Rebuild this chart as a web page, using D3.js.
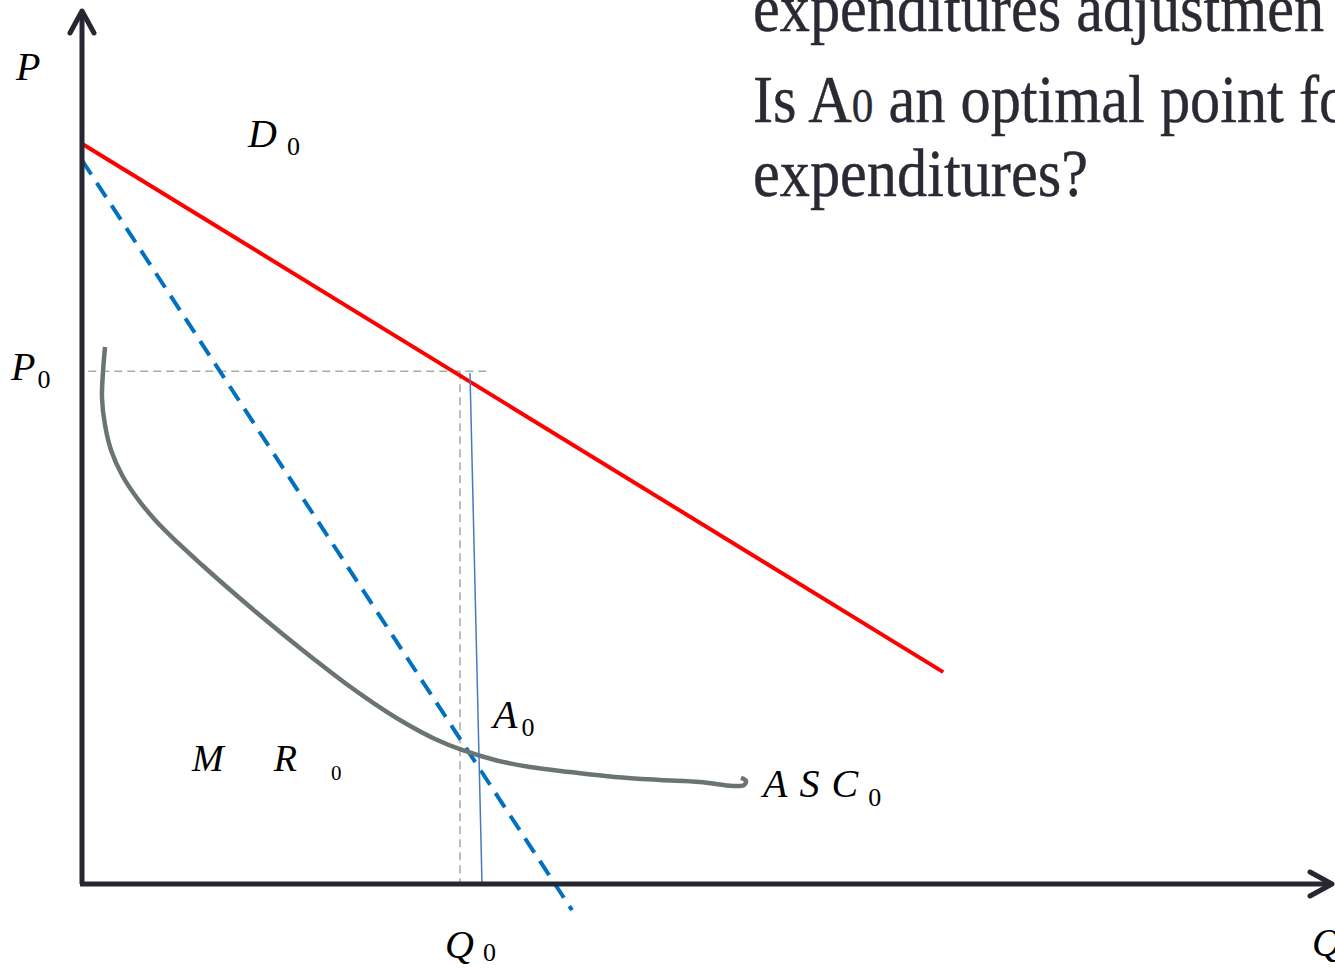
<!DOCTYPE html>
<html>
<head>
<meta charset="utf-8">
<script src="https://cdn.jsdelivr.net/npm/d3@7/dist/d3.min.js"></script>
<style>
  html, body { margin: 0; padding: 0; background: #fff; }
  svg { display: block; }
</style>
</head>
<body>
<div id="chart"></div>
<script>
// chart values (Q and P in chart units 0..100)
var demandQ = [0, 68.9];
var demandP = [84.9, 24.3];

var mrQ = [0, 39.2];
var mrP = [83.0, -3.0];

var ascQ = [1.84, 1.68, 1.60, 1.84, 2.32, 3.20, 4.40, 5.92, 7.68, 9.60, 11.68, 13.92, 16.24, 18.64, 21.04, 23.44, 25.84, 28.24, 30.40, 33.04, 35.84, 39.04, 42.64, 46.24, 49.44, 52.08, 52.96, 53.12, 52.72];
var ascP = [61.58, 58.72, 55.73, 52.64, 49.77, 46.90, 44.27, 41.63, 39.11, 36.58, 33.94, 31.19, 28.44, 25.69, 23.05, 20.64, 18.46, 16.63, 15.37, 14.22, 13.42, 12.84, 12.27, 11.93, 11.70, 11.24, 11.35, 11.81, 12.16];

var p0 = 58.8;
var q0 = 30.24;
var p0GuideQ = [0.5, 32.6];
var a0LineQ = [31.04, 32.0];
var a0LineP = [58.6, 0];

var titleLines = ['expenditures adjustmen', 'Is A|0| an optimal point fo', 'expenditures?'];

var width = 1335, height = 969;

var x = d3.scaleLinear().domain([0, 100]).range([82, 1332]);
var y = d3.scaleLinear().domain([0, 100]).range([884, 12]);

var svg = d3.select('#chart').append('svg')
    .attr('width', width)
    .attr('height', height);

var line = d3.line()
    .x(function(d) { return x(d[0]); })
    .y(function(d) { return y(d[1]); });

// guides for P0 and Q0
svg.append('line')
    .attr('x1', x(p0GuideQ[0])).attr('x2', x(p0GuideQ[1]))
    .attr('y1', y(p0)).attr('y2', y(p0))
    .style('stroke', '#a3aca7')
    .style('stroke-width', 1.5)
    .style('stroke-dasharray', '8,5');

svg.append('line')
    .attr('x1', x(q0)).attr('x2', x(q0))
    .attr('y1', y(p0)).attr('y2', y(0))
    .style('stroke', '#a3aca7')
    .style('stroke-width', 1.5)
    .style('stroke-dasharray', '8,5');

// demand D0
svg.append('path')
    .datum(d3.zip(demandQ, demandP))
    .attr('d', line)
    .style('fill', 'none')
    .style('stroke', '#ff0000')
    .style('stroke-width', 4);

// MR0 dashed
svg.append('path')
    .datum(d3.zip(mrQ, mrP))
    .attr('d', line)
    .style('fill', 'none')
    .style('stroke', '#0070c0')
    .style('stroke-width', 4)
    .style('stroke-dasharray', '17,10');

// ASC0 curve
var curveLine = d3.line()
    .x(function(d) { return x(d[0]); })
    .y(function(d) { return y(d[1]); })
    .curve(d3.curveCatmullRom.alpha(0.5));

svg.append('path')
    .datum(d3.zip(ascQ, ascP))
    .attr('d', curveLine)
    .style('fill', 'none')
    .style('stroke', '#6b7570')
    .style('stroke-width', 4.5)
    .style('stroke-linejoin', 'round');

// thin blue line through A0
svg.append('path')
    .datum(d3.zip(a0LineQ, a0LineP))
    .attr('d', line)
    .style('fill', 'none')
    .style('stroke', '#4a78c0')
    .style('stroke-width', 1.5);

// axes with arrows
var axisColor = '#272731';
svg.append('line')
    .attr('x1', x(0)).attr('y1', y(0)).attr('x2', x(0)).attr('y2', y(100) - 1)
    .style('stroke', axisColor).style('stroke-width', 5);
svg.append('line')
    .attr('x1', x(0) - 2).attr('y1', y(0)).attr('x2', x(100)).attr('y2', y(0))
    .style('stroke', axisColor).style('stroke-width', 5);

svg.append('path')
    .attr('d', 'M' + (x(0) - 12) + ',' + (y(100) + 21) + 'L' + x(0) + ',' + (y(100) - 1) + 'L' + (x(0) + 12) + ',' + (y(100) + 21))
    .style('fill', 'none').style('stroke', axisColor).style('stroke-width', 5)
    .style('stroke-linecap', 'round').style('stroke-linejoin', 'round');
svg.append('path')
    .attr('d', 'M' + (x(100) - 22) + ',' + (y(0) - 12) + 'L' + x(100) + ',' + y(0) + 'L' + (x(100) - 22) + ',' + (y(0) + 12))
    .style('fill', 'none').style('stroke', axisColor).style('stroke-width', 5)
    .style('stroke-linecap', 'round').style('stroke-linejoin', 'round');

// italic labels with upright subscripts
function label(px, py, parts, size, subSize) {
    var t = svg.append('text')
        .attr('x', px).attr('y', py)
        .style('font-family', '"Liberation Serif", "Times New Roman", serif')
        .style('fill', '#000');
    parts.forEach(function(p) {
        var ts = t.append('tspan').text(p.t);
        if (p.dx) ts.attr('dx', p.dx);
        if (p.sub) {
            ts.style('font-size', subSize + 'px').style('font-style', 'normal');
            if (p.dy) ts.attr('dy', p.dy);
        } else {
            ts.style('font-size', size + 'px').style('font-style', 'italic');
        }
    });
    return t;
}

label(16, 80, [{t: 'P'}], 40, 26);
label(248, 147, [{t: 'D'}, {t: '0', sub: true, dx: 10, dy: 8}], 40, 26);
label(11, 380, [{t: 'P'}, {t: '0', sub: true, dx: 2, dy: 8}], 40, 26);
label(493, 728, [{t: 'A'}, {t: '0', sub: true, dx: 4, dy: 8}], 40, 26);
label(192, 771, [{t: 'M'}, {t: 'R', dx: 50}, {t: '0', sub: true, dx: 34, dy: 9}], 38, 21);
label(763, 797, [{t: 'A'}, {t: 'S', dx: 12}, {t: 'C', dx: 12}, {t: '0', sub: true, dx: 10, dy: 9}], 40, 26);
label(445, 958, [{t: 'Q'}, {t: '0', sub: true, dx: 9, dy: 3}], 40, 26);
label(1312, 956, [{t: 'Q'}], 40, 26);

// slide text
var title = svg.append('g')
    .style('font-family', '"Liberation Serif", "Times New Roman", serif')
    .style('fill', '#2a2a35')
    .style('stroke', '#2a2a35')
    .style('stroke-width', 0.4);
var baselines = [31, 122, 196];
var titleTexts = titleLines.map(function(s, i) {
    var t = title.append('text').attr('x', 0).attr('y', baselines[i]).style('font-size', '67px');
    s.split('|').forEach(function(seg, j) {
        var ts = t.append('tspan').text(seg);
        if (j === 1) ts.style('font-size', '48px');
    });
    return t;
});
var w3 = titleTexts[2].node().getComputedTextLength();
var sx = 335 / w3;
title.attr('transform', 'translate(753,0) scale(' + sx + ',1)');
</script>
</body>
</html>
